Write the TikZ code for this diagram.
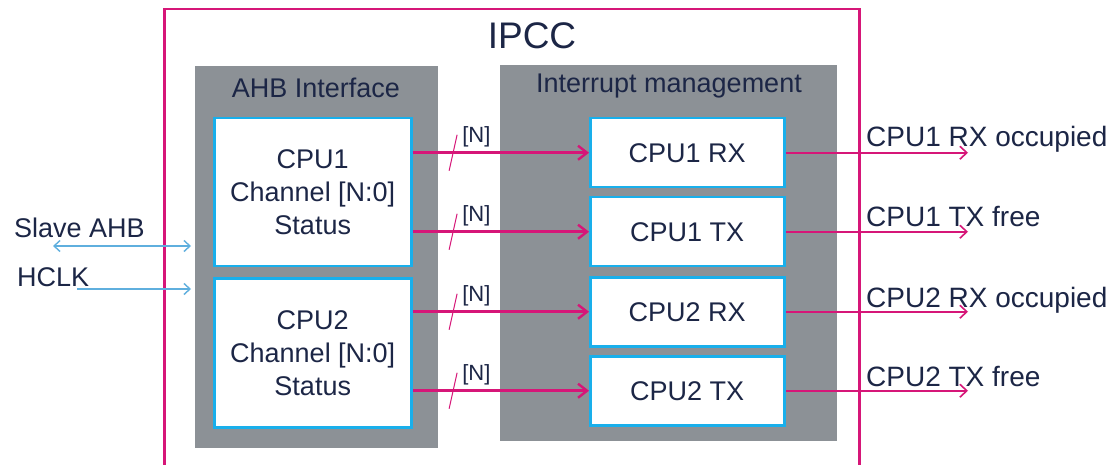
\documentclass[tikz,border=0pt]{standalone}
\usepackage{fontspec}
\setmainfont{Liberation Sans}
\usetikzlibrary{arrows.meta}
\definecolor{mag}{RGB}{214,22,120}
\definecolor{cy}{RGB}{25,175,235}
\definecolor{gr}{RGB}{140,145,150}
\definecolor{txt}{RGB}{28,38,70}
\definecolor{lb}{RGB}{95,175,222}
\tikzset{
  every node/.style={text=txt, inner sep=0pt},
  graybox/.style={fill=gr, anchor=north west},
  cpubox/.style={draw=cy, line width=2.5pt, fill=white, anchor=north west, align=center, font=\fontsize{27}{33}\selectfont},
  busarrow/.style={draw=mag, line width=2.6pt, -{Straight Barb[length=9pt,width=14pt,line width=2.4pt]}},
  outarrow/.style={draw=mag, line width=1.8pt, -{Straight Barb[length=7pt,width=13pt,line width=1.6pt]}},
  bluearrow/.style={draw=lb, line width=1.4pt},
  slashline/.style={draw=mag, line width=1pt},
  lbl/.style={font=\fontsize{27}{33}\selectfont},
  outlbl/.style={font=\fontsize{28}{33}\selectfont, anchor=base west},
  nlbl/.style={font=\fontsize{22}{24}\selectfont, anchor=west},
}
\begin{document}
\begin{tikzpicture}[x=1pt,y=-1pt]
\useasboundingbox (0,0) rectangle (1114,465);
\clip (0,0) rectangle (1114,465);
\fill[white] (0,0) rectangle (1114,465);
% outer IPCC block
\node[draw=mag, line width=2.5pt, minimum width=695pt, minimum height=480pt, anchor=north west] (ipcc) at (163,8) {};
\node[font=\fontsize{37}{40}\selectfont] (ipcclbl) at (532,36) {IPCC};
% gray groups
\node[graybox, minimum width=243pt, minimum height=382pt] (ahb) at (195,66) {};
\node[lbl] (ahblbl) at (316,88) {AHB Interface};
\node[graybox, minimum width=337pt, minimum height=376pt] (irq) at (500,65) {};
\node[lbl] (irqlbl) at (669,86) {Interrupt management};
% left boxes
\node[cpubox, minimum width=197pt, minimum height=148pt] (c1) at (213,117) {CPU1\\Channel [N:0]\\Status};
\node[cpubox, minimum width=197pt, minimum height=149pt] (c2) at (213,277) {CPU2\\Channel [N:0]\\Status};
% right boxes
\node[cpubox, minimum width=194pt, minimum height=69pt] (r1) at (589,117) {CPU1 RX};
\node[cpubox, minimum width=194pt, minimum height=69pt] (t1) at (589,196) {CPU1 TX};
\node[cpubox, minimum width=194pt, minimum height=69pt] (r2) at (589,276) {CPU2 RX};
\node[cpubox, minimum width=194pt, minimum height=69pt] (t2) at (589,355) {CPU2 TX};
% bus arrows
\draw[busarrow] (c1.east |- r1.west) -- coordinate[pos=0.23] (s1) (r1.west);
\draw[busarrow] (c1.east |- t1.west) -- coordinate[pos=0.23] (s2) (t1.west);
\draw[busarrow] (c2.east |- r2.west) -- coordinate[pos=0.23] (s3) (r2.west);
\draw[busarrow] (c2.east |- t2.west) -- coordinate[pos=0.23] (s4) (t2.west);
\foreach \s in {s1,s2,s3,s4}{
  \draw[slashline] ([shift={(-4,18)}]\s) -- ([shift={(4,-18)}]\s);
  \node[nlbl] (n\s) at ([shift={(9,-16)}]\s) {[N]};
}
% outputs
\coordinate (o1) at (968,151);
\coordinate (o2) at (968,231);
\coordinate (o3) at (968,311);
\coordinate (o4) at (968,390);
\draw[outarrow] (r1.east) -- (r1.east -| o1);
\draw[outarrow] (t1.east) -- (t1.east -| o2);
\draw[outarrow] (r2.east) -- (r2.east -| o3);
\draw[outarrow] (t2.east) -- (t2.east -| o4);
\node[outlbl] (l1) at (866,147) {CPU1 RX occupied};
\node[outlbl] (l2) at (866,227) {CPU1 TX free};
\node[outlbl] (l3) at (866,307) {CPU2 RX occupied};
\node[outlbl] (l4) at (866,386) {CPU2 TX free};
% left inputs
\node[lbl, anchor=base west] (slave) at (14,238) {Slave AHB};
\node[lbl, anchor=base west] (hclk) at (17,287) {HCLK};
\coordinate (sa1) at (53,246);
\coordinate (sa2) at (191,246);
\coordinate (h1) at (77,289);
\coordinate (h2) at (191,289);
\draw[bluearrow, {Straight Barb[length=6pt,width=11pt]}-{Straight Barb[length=6pt,width=11pt]}] (sa1) -- (sa2);
\draw[bluearrow, -{Straight Barb[length=6pt,width=11pt]}] (h1) -- (h2);
\end{tikzpicture}
\end{document}
